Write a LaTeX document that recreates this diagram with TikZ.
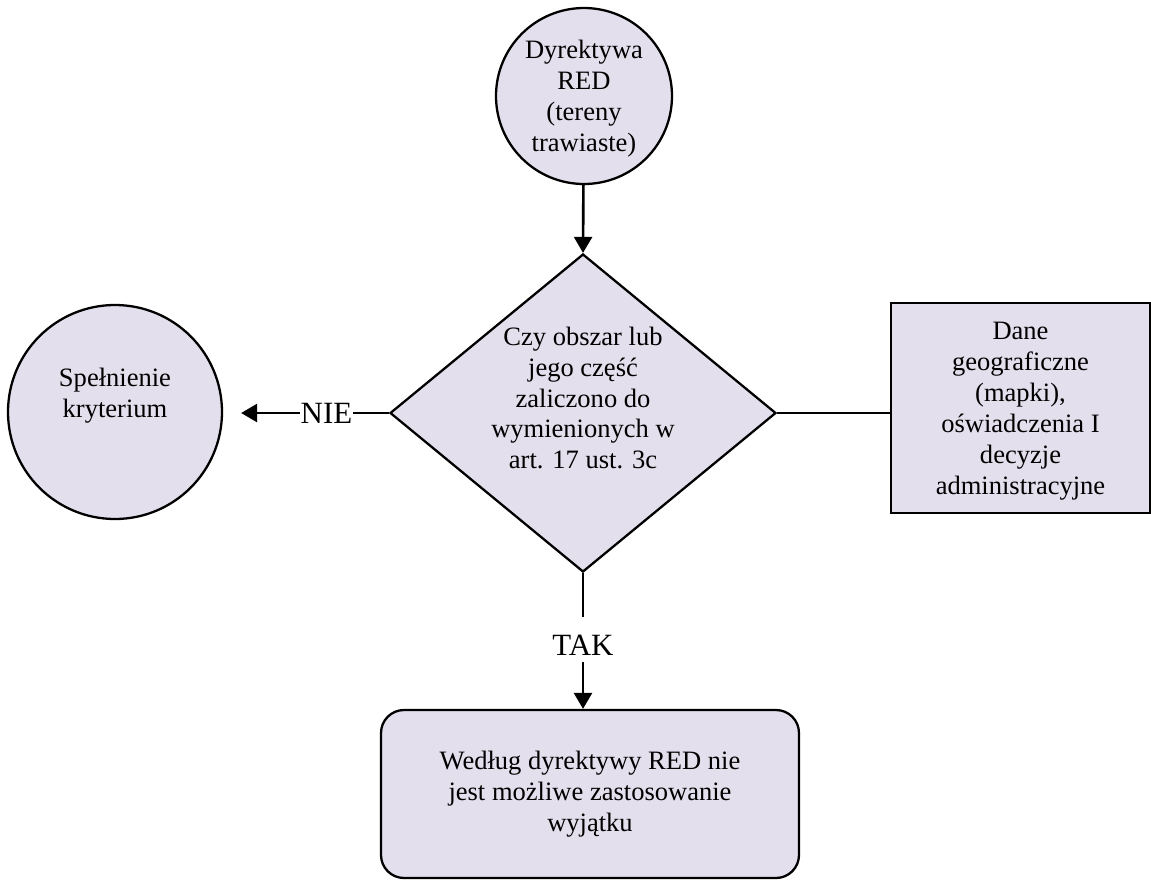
\documentclass[tikz,border=0pt]{standalone}
\usepackage{fontspec}
\setmainfont{Liberation Serif}
\usepackage{tikz}
\usetikzlibrary{arrows.meta,shapes.geometric}
\definecolor{lavender}{RGB}{227,223,236}
\tikzset{
  every picture/.style={/utils/exec={\fontsize{7.55pt}{8.8pt}\selectfont}},
  box/.style={draw=black, fill=lavender, line width=0.65pt, align=center, inner sep=0pt},
  startcircle/.style={box, circle, minimum size=1.76cm},
  endcircle/.style={box, circle, minimum size=2.14cm},
  decision/.style={box, diamond, minimum width=3.86cm, minimum height=3.18cm},
  datarect/.style={box, rectangle, minimum width=2.59cm, minimum height=2.10cm},
  resultbox/.style={box, rectangle, rounded corners=0.23cm, minimum width=4.18cm, minimum height=1.68cm},
  answer/.style={inner sep=0pt, font=\fontsize{8.8pt}{10pt}\selectfont},
  flowline/.style={line width=0.65pt},
  flowarrow/.style={line width=0.75pt, -{Triangle[length=1.6mm,width=1.8mm]}}
}

\begin{document}
\begin{tikzpicture}

\useasboundingbox (0,0) rectangle (11.51,-8.80);

%Start and question
\node[startcircle, text depth=-0.08cm] (red) at (5.84,-0.96) {Dyrektywa\\RED\\(tereny\\trawiaste)};
\node[decision] (dec) at (5.83,-4.13) {};
\node[yshift=0.15cm, align=center, inner sep=0pt] (dectext) at (dec) {Czy obszar lub\\jego część\\zaliczono do\\wymienionych w\\art. 17 ust. 3c};

% Side boxes
\node[endcircle, text depth=0.38cm] (spel) at (1.15,-4.12) {Spełnienie\\kryterium};
\node[datarect, text depth=-0.18cm] (dane) at (10.205,-4.08) {Dane\\geograficzne\\(mapki),\\oświadczenia I\\decyzje\\administracyjne};

% Result
\node[resultbox] (wyjatek) at (5.90,-7.94) {Według dyrektywy RED nie\\jest możliwe zastosowanie\\wyjątku};

% Answers
\node[answer] (nie) at (3.265,-4.13) {NIE};
\node[answer] (tak) at (5.83,-6.45) {TAK};

% Connectors
\draw[flowarrow] (red) -- (dec.north);
\draw[flowline] (dec.west) -- (nie.east);
\draw[flowarrow, shorten >=0.18cm] (nie.west) -- (nie.west -| spel.east);
\draw[flowline] (dec.east) -- (dec.east -| dane.west);
\draw[flowline, shorten >=0.17cm] (dec.south) -- (tak.north);
\draw[flowarrow, shorten <=0.06cm] (tak.south) -- (tak.south |- wyjatek.north);

\end{tikzpicture}
\end{document}
